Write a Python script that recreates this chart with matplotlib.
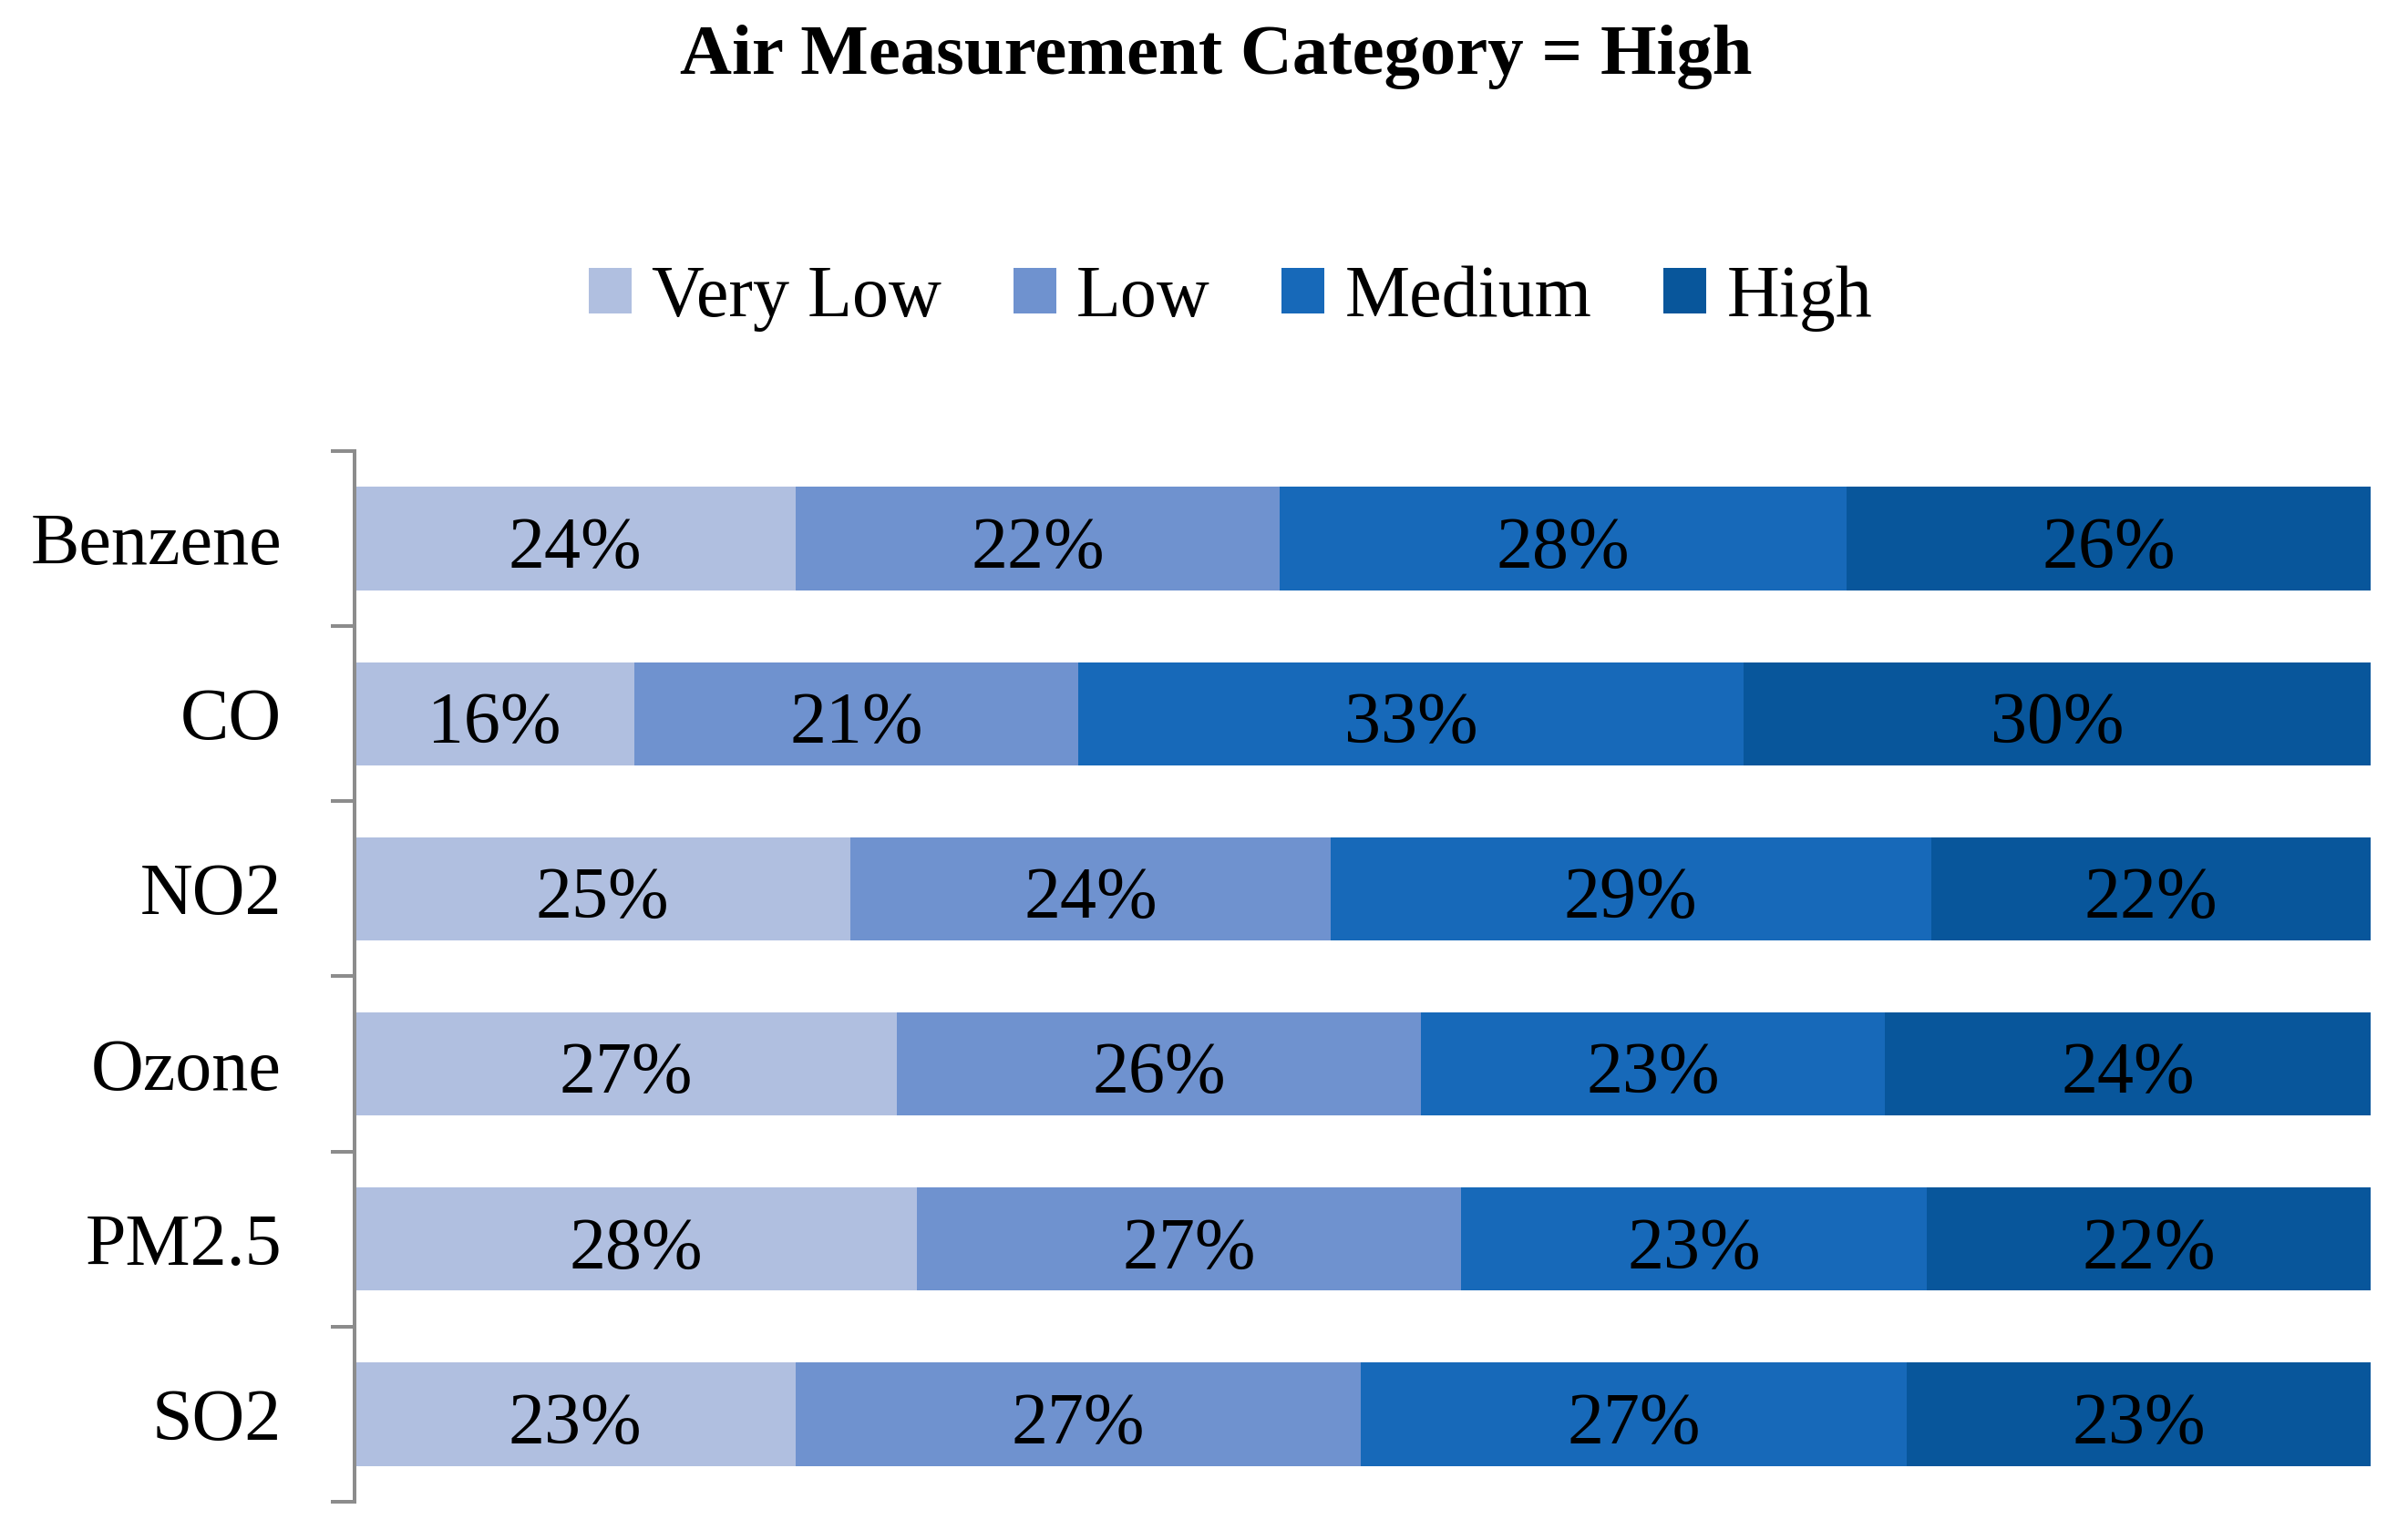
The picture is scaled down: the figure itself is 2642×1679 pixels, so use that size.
# Stacked horizontal bar chart of air measurement shares.
import numpy as np
import matplotlib.pyplot as plt

plt.rcParams['font.family'] = ['Liberation Serif', 'DejaVu Serif']

# Data (bar widths in %, and the printed labels).
categories = ['Benzene', 'CO', 'NO2', 'Ozone', 'PM2.5', 'SO2']
levels = ['Very Low', 'Low', 'Medium', 'High']
very_low = [21.9, 13.9, 24.6, 26.9, 27.9, 21.9]
low = [24.0, 22.0, 23.8, 26.0, 27.0, 28.0]
medium = [28.1, 33.0, 29.8, 23.0, 23.1, 27.1]
high = [26.0, 31.1, 21.8, 24.1, 22.0, 23.0]
very_low_labels = ['24%', '16%', '25%', '27%', '28%', '23%']
low_labels = ['22%', '21%', '24%', '26%', '27%', '27%']
medium_labels = ['28%', '33%', '29%', '23%', '23%', '27%']
high_labels = ['26%', '30%', '22%', '24%', '22%', '23%']
colors = ['#B0BFE0', '#6F92CF', '#1769B9', '#08569B']

series = [very_low, low, medium, high]
series_labels = [very_low_labels, low_labels, medium_labels, high_labels]

fig = plt.figure(figsize=(13.21, 8.395), dpi=200)
ax = fig.add_axes([0.1472, 0.0185, 0.8373, 0.6867])

y = np.arange(len(categories))
left = np.zeros(len(categories))
for name, vals, labs, col in zip(levels, series, series_labels, colors):
    vals = np.array(vals)
    ax.barh(y, vals, left=left, height=0.59, color=col, label=name)
    # Put the printed percentage in the middle of each segment.
    for yi, xc, lab in zip(y, left + vals / 2, labs):
        ax.text(xc, yi + 0.02, lab, ha='center', va='center_baseline',
                fontsize=28.8, color='black')
    left += vals

ax.set_xlim(0, 100)
ax.set_ylim(len(categories) - 0.5, -0.5)

# Category names at bar centres, tick marks at the boundaries.
ax.set_yticks(y)
ax.set_yticklabels(categories, fontsize=28.8)
ax.tick_params(axis='y', which='major', length=0, pad=28.8)
ax.set_yticks(np.arange(len(categories) + 1) - 0.5, minor=True)
ax.tick_params(axis='y', which='minor', length=9.4, width=1.44, color='#8C8C8C')
ax.set_xticks([])

for side in ['top', 'right', 'bottom']:
    ax.spines[side].set_visible(False)
ax.spines['left'].set_color('#8C8C8C')
ax.spines['left'].set_linewidth(1.44)

fig.text(0.505, 0.9518, 'Air Measurement Category = High', ha='center', va='baseline',
         fontsize=28.4, fontweight='bold')

fig.legend(loc='center', bbox_to_anchor=(0.511, 0.805), ncol=4, frameon=False,
           fontsize=28.8, handlelength=0.59, handleheight=0.59, handletextpad=0.28,
           columnspacing=0.98)

fig.savefig('out.png', dpi=200)
